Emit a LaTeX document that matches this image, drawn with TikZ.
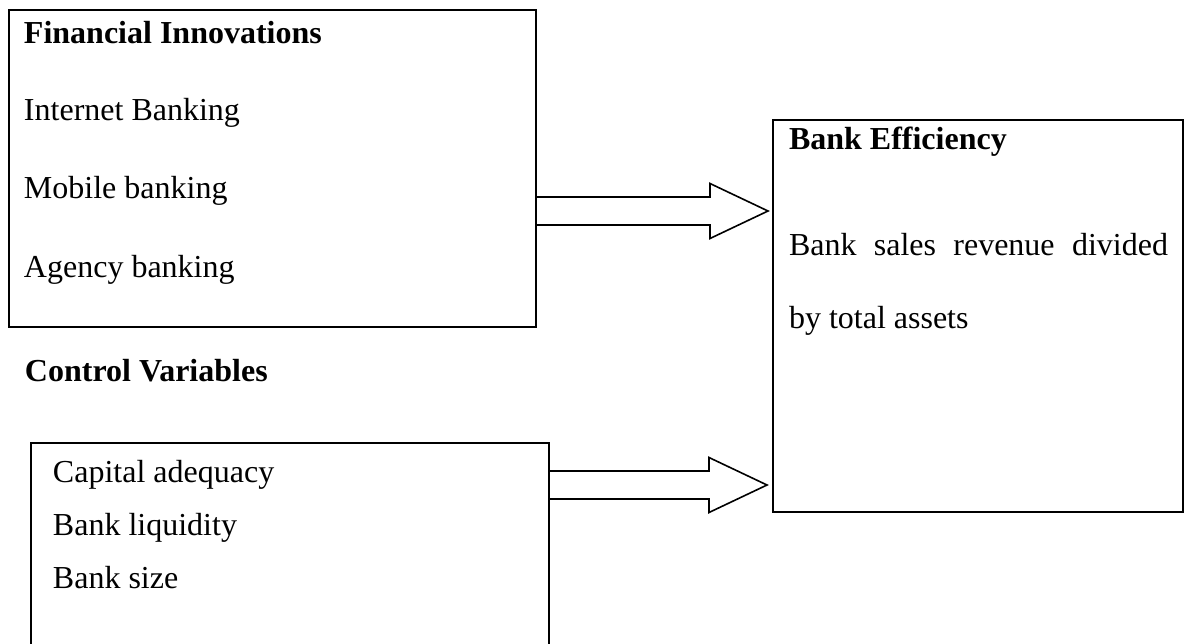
\documentclass[tikz,border=0pt]{standalone}
\usepackage{fontspec}
\setmainfont{Liberation Serif}
\usetikzlibrary{calc,fit}
\tikzset{
  model diagram/.style={
    draw=black, line width=0.8pt, x=0.5pt, y=-0.5pt,
    every node/.style={font=\fontsize{16}{19}\selectfont,
      text=black, inner sep=0pt, outer sep=0pt}
  },
  model box/.style={draw=black, line width=0.8pt},
  model item/.style={anchor=base west},
  model arrow/.style={draw=black, line width=0.8pt, line join=miter}
}
% block arrow: #1 start, #2 tip
\newcommand{\ModelArrow}[2]{%
  \draw[model arrow] ($(#1)+(0,-14)$) -- ($(#2)+(-58,-14)$)
    -- ($(#2)+(-58,-27.5)$) -- (#2) -- ($(#2)+(-58,27.5)$)
    -- ($(#2)+(-58,14)$) -- ($(#1)+(0,14)$);
}
\begin{document}
\begin{tikzpicture}[model diagram]
    \useasboundingbox (0,0) rectangle (1184,643);
    \clip (0,0) rectangle (1184,643);
    % financial innovations
    \coordinate (fin nw) at (9,10);
    \coordinate (fin se) at (536,327);
    \node[model box, fit=(fin nw)(fin se)] (fin) {};
    \node[model item] (fin title) at (24,43) {\textbf{Financial Innovations}};
    \foreach \name/\y/\txt in {inet/120/Internet Banking, mob/198/Mobile banking, agency/277/Agency banking}
      \node[model item] (fin \name) at (24,\y) {\txt};
    % control variables
    \node[model item] (ctl title) at (25,381) {\textbf{Control Variables}};
    \coordinate (ctl nw) at (31,443);
    \coordinate (ctl se) at (549,690);
    \node[model box, fit=(ctl nw)(ctl se)] (ctl) {};
    \foreach \name/\y/\txt in {cap/482/Capital adequacy, liq/535/Bank liquidity, size/588/Bank size}
      \node[model item] (ctl \name) at (53,\y) {\txt};
    % bank efficiency
    \coordinate (eff nw) at (773,120);
    \coordinate (eff se) at (1183,512);
    \node[model box, fit=(eff nw)(eff se)] (eff) {};
    \node[model item] (eff title) at (789,149) {\textbf{Bank Efficiency}};
    \node[model item] (eff line1) at (789,255) {\makebox[189.5pt][s]{Bank sales revenue divided}};
    \node[model item] (eff line2) at (789,328) {by total assets};
    % arrows
    \coordinate (fin out) at (fin.east |- 0,211);
    \coordinate (eff in a) at ($(eff.west |- fin out)+(-5,0)$);
    \coordinate (ctl out) at (ctl.east |- 0,485);
    \coordinate (eff in b) at ($(eff.west |- ctl out)+(-6,0)$);
    \ModelArrow{fin out}{eff in a}
    \ModelArrow{ctl out}{eff in b}
  \end{tikzpicture}
\end{document}
